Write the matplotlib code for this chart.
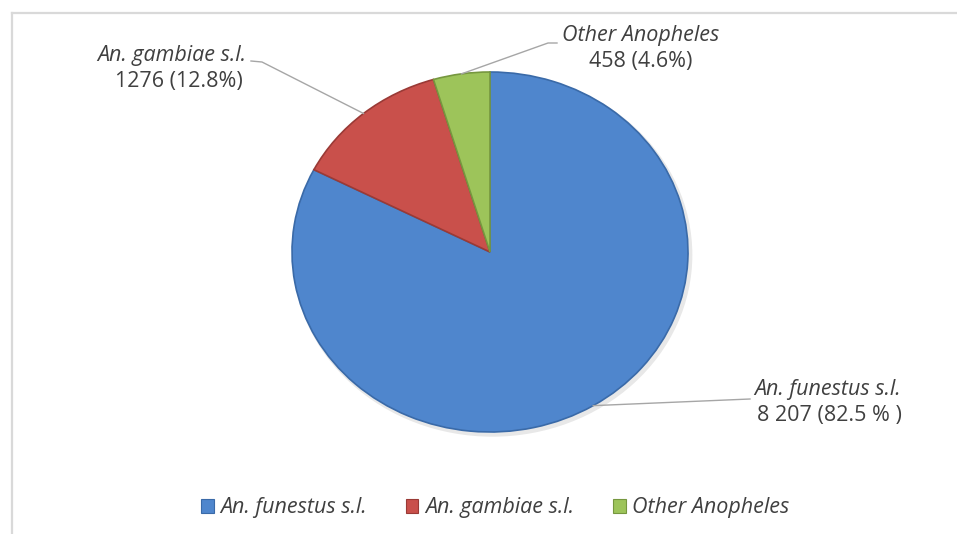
import numpy as np
import matplotlib.pyplot as plt
from matplotlib.lines import Line2D
from matplotlib.patches import Ellipse, Rectangle

plt.rcParams['font.family'] = ['Open Sans', 'DejaVu Sans']

# mosquito counts per group
species = ['An. funestus s.l.', 'An. gambiae s.l.', 'Other Anopheles']
counts = [8207, 1276, 458]
count_labels = ['8 207 (82.5 % )', '1276 (12.8%)', '458 (4.6%)']
colors = ['#4F86CD', '#C9504B', '#9DC45A']
edge_colors = ['#3A6AA8', '#9A3A36', '#76973F']

W, H = 957, 534
fig = plt.figure(figsize=(W / 100, H / 100), dpi=100)
ax = fig.add_axes([0, 0, 1, 1])

wedges, _ = ax.pie(counts, colors=colors, startangle=90, counterclock=False,
                   wedgeprops=dict(linewidth=1.2, zorder=2))
for w, ec in zip(wedges, edge_colors):
    w.set_edgecolor(ec)

# soft drop shadow under the pie
ax.add_patch(Ellipse((0.012, -0.016), 2.02, 2.02, color='#8c8c8c', alpha=0.2, zorder=1, lw=0))

# stretch the pie into an ellipse: 198 px wide radius, 180 px tall radius
cx, cy, rx, ry = 490, H - 252, 198, 180
ax.set_aspect('auto')
ax.set_xlim(-cx / rx, (W - cx) / rx)
ax.set_ylim(-cy / ry, (H - cy) / ry)
ax.axis('off')


def px(x, y_top):
    return x / W, (H - y_top) / H


def wedge_mid(w):
    a = np.deg2rad((w.theta1 + w.theta2) / 2)
    x, y = ax.transData.transform((np.cos(a), np.sin(a)))
    return x / W, y / H


FS = 15.5
txt = dict(color='#404040', fontsize=FS, ha='center', va='center')
line_kw = dict(color='#A6A6A6', lw=1.0, transform=fig.transFigure)

# An. funestus label
fig.text(*px(828, 389), species[0], style='italic', **txt)
fig.text(*px(829, 416), count_labels[0], **txt)
m = wedge_mid(wedges[0])
fig.add_artist(Line2D([m[0], px(750, 399)[0]], [m[1], px(750, 399)[1]], **line_kw))

# An. gambiae label
fig.text(*px(172, 55), species[1], style='italic', **txt)
fig.text(*px(179, 82), count_labels[1], **txt)
m = wedge_mid(wedges[1])
p1, p2 = px(251, 61), px(262, 62)
fig.add_artist(Line2D([p1[0], p2[0], m[0]], [p1[1], p2[1], m[1]], **line_kw))

# Other Anopheles label
fig.text(*px(641, 35), species[2], style='italic', **txt)
fig.text(*px(641, 62), count_labels[2], **txt)
m = wedge_mid(wedges[2])
p1, p2 = px(548, 43), px(557, 43)
fig.add_artist(Line2D([m[0], p1[0], p2[0]], [m[1], p1[1], p2[1]], **line_kw))

# legend along the bottom
handles = [Rectangle((0, 0), 1, 1, facecolor=c, edgecolor=ec, lw=0.8)
           for c, ec in zip(colors, edge_colors)]
leg = fig.legend(handles, species, loc='center', ncol=3, frameon=False,
                 bbox_to_anchor=(495 / W, 1 - 508 / H), handlelength=0.6,
                 handleheight=0.6, handletextpad=0.3, columnspacing=1.8,
                 prop=dict(size=FS, style='italic'))
for t in leg.get_texts():
    t.set_color('#404040')

# chart area border (left and top edges)
border = dict(color='#D9D9D9', lw=1.6, transform=fig.transFigure)
fig.add_artist(Line2D([11.5 / W, 11.5 / W], [0, 1 - 13 / H], **border))
fig.add_artist(Line2D([11.5 / W, 1], [1 - 13 / H, 1 - 13 / H], **border))

fig.savefig('out.png', dpi=100)
